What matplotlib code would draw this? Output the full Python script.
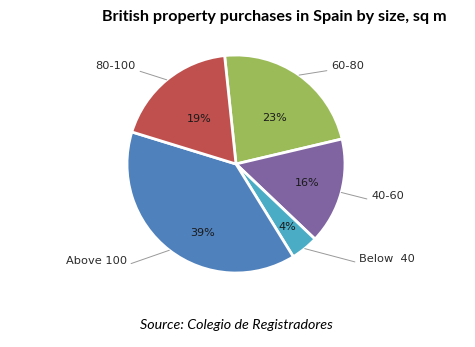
import matplotlib.pyplot as plt
import numpy as np

# share of purchases by size band (clockwise from top)
sizes = ['60-80', '40-60', 'Below  40', 'Above 100', '80-100']
shares = [23.0, 15.8, 4.1, 38.6, 18.6]
colors = ['#9BBB59', '#8064A2', '#4BACC6', '#4F81BD', '#C0504D']

W, H = 475, 347
fig = plt.figure(figsize=(W / 100, H / 100), dpi=100)

# pie centre (236,164) px, radius 109 px
cx, cy, r = 236, 164, 109
ax = fig.add_axes([(cx - r) / W, (H - cy - r) / H, 2 * r / W, 2 * r / H])
wedges, texts, autotexts = ax.pie(shares, colors=colors, startangle=96, counterclock=False,
                                  autopct='%.0f%%', pctdistance=0.6,
                                  wedgeprops=dict(edgecolor='white', linewidth=2),
                                  textprops=dict(fontsize=8, family='DejaVu Sans', color='#1a1a1a'))
ax.set_xlim(-1, 1)
ax.set_ylim(-1, 1)
ax.set_aspect('auto')
ax.axis('off')

# percent label distances from centre, per slice
pct_r = [0.55, 0.68, 0.74, 0.7, 0.53]
pct_shift = [-4, 0, 0, 12, 0]
for w, t, d, s in zip(wedges, autotexts, pct_r, pct_shift):
    a = np.deg2rad((w.theta1 + w.theta2) / 2 + s)
    t.set_position((d * np.cos(a), d * np.sin(a)))

# outside labels: text anchor in pixels (x, y from top), side
label_pos = [(331, 66, 'left'), (371, 196, 'left'), (359, 259, 'left'),
             (127, 261, 'right'), (136, 66, 'right')]
for w, name, (lx, ly, ha) in zip(wedges, sizes, label_pos):
    a = np.deg2rad((w.theta1 + w.theta2) / 2)
    ax.annotate(name, xy=(np.cos(a), np.sin(a)), xycoords='data',
                xytext=(lx, H - ly), textcoords='figure pixels',
                ha=ha, va='center', fontsize=8.2, family='DejaVu Sans', color='#2b2b2b',
                arrowprops=dict(arrowstyle='-', color='#999999', lw=0.7,
                                relpos=(0 if ha == 'left' else 1, 0.1),
                                shrinkA=1, shrinkB=0))

fig.text(274 / W, 1 - 17 / H, 'British property purchases in Spain by size, sq m',
         ha='center', va='center', fontsize=11.6, fontweight='bold', family='Lato')
fig.text(236 / W, 1 - 325 / H, 'Source: Colegio de Registradores',
         ha='center', va='center', fontsize=10.3, style='italic', family='Lato')

fig.savefig('out.png', dpi=100)
